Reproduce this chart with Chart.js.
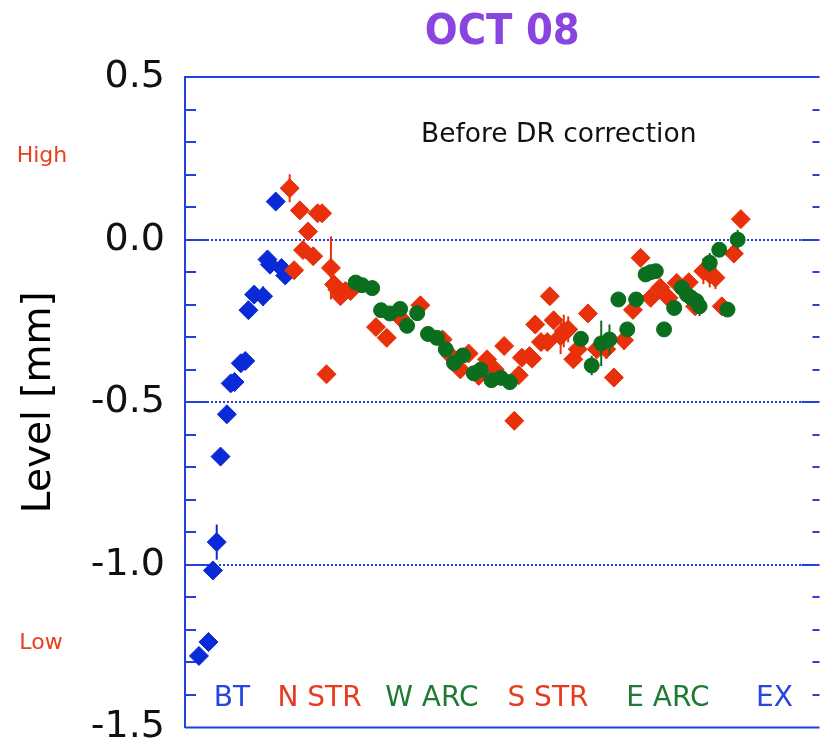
<!DOCTYPE html>
<html>
<head>
<meta charset="utf-8">
<title>OCT 08 level</title>
<script src="https://cdn.jsdelivr.net/npm/chart.js@4.4.0/dist/chart.umd.min.js"></script>
<style>
  body { margin: 0; background: #fff; }
  #wrap { width: 830px; height: 738px; position: relative; }
</style>
</head>
<body>
<div id="wrap"><canvas id="levelChart"></canvas></div>
<script>
// position along the ring (arbitrary units 0..100) and level in mm
const btX   = [2.2, 3.7, 4.4, 5.0, 5.6, 6.6, 7.2, 7.8, 8.8, 9.5, 10.0, 10.9, 12.3, 13.0, 13.4, 14.3, 15.2, 15.8];
const btY   = [-1.28, -1.237, -1.017, -0.93, -0.667, -0.537, -0.442, -0.438, -0.38, -0.373, -0.217, -0.169, -0.174, -0.061, -0.077, 0.117, -0.087, -0.11];
const btErr = [0.01, 0.01, 0.01, 0.054, 0.01, 0.01, 0.01, 0.01, 0.01, 0.01, 0.01, 0.01, 0.03, 0.01, 0.01, 0.015, 0.022, 0.01];

const strX = [16.5, 17.2, 18.1, 18.6, 19.4, 20.2, 20.9, 21.6, 22.3, 23.0, 23.5, 24.0, 24.5, 25.3, 26.1,
              30.1, 31.8, 33.9, 37.1, 40.6, 41.9, 43.4, 44.7, 46.3, 47.6, 48.8, 50.3, 51.9, 52.6, 53.1,
              54.3, 54.7, 55.2, 56.1, 57.1, 57.5, 58.1, 59.2, 59.7, 60.4, 61.2, 61.9, 63.5, 64.9, 66.4,
              67.6, 69.2, 70.6, 71.8, 73.4, 74.9, 76.2, 77.5, 79.4, 80.4, 81.7, 82.7, 83.6, 84.6, 86.5, 87.6];
const strY = [0.158, -0.094, 0.09, -0.032, 0.025, -0.051, 0.081, 0.081, -0.414, -0.087, -0.138, -0.153, -0.174, -0.158, -0.158,
              -0.269, -0.302, -0.24, -0.202, -0.307, -0.357, -0.399, -0.35, -0.419, -0.368, -0.399, -0.327, -0.557, -0.417, -0.363,
              -0.358, -0.366, -0.261, -0.315, -0.315, -0.174, -0.248, -0.297, -0.281, -0.276, -0.368, -0.337, -0.227, -0.337, -0.337,
              -0.424, -0.309, -0.216, -0.056, -0.179, -0.148, -0.179, -0.133, -0.131, -0.205, -0.097, -0.107, -0.117, -0.205, -0.043, 0.063];
const strErr = [0.043, 0.02, 0.02, 0.02, 0.02, 0.015, 0.015, 0.015, 0.015, 0.097, 0.02, 0.02, 0.02, 0.02, 0.015,
                0.015, 0.015, 0.02, 0.015, 0.02, 0.02, 0.02, 0.02, 0.02, 0.015, 0.02, 0.015, 0.015, 0.02, 0.015,
                0.015, 0.02, 0.015, 0.015, 0.015, 0.015, 0.02, 0.055, 0.05, 0.04, 0.02, 0.02, 0.015, 0.02, 0.03,
                0.015, 0.03, 0.02, 0.015, 0.015, 0.015, 0.015, 0.015, 0.015, 0.02, 0.04, 0.04, 0.035, 0.015, 0.02, 0.02];

const arcX = [26.9, 27.9, 29.5, 30.9, 32.3, 33.9, 35.0, 36.6, 38.3, 39.7, 41.1, 42.4, 43.8, 45.5, 46.6, 48.3, 49.8, 51.2,
              62.4, 64.1, 65.6, 66.9, 68.3, 69.7, 71.1, 72.6, 73.4, 74.2, 75.5, 77.1, 78.3, 79.1, 79.8, 80.6, 81.1, 82.7, 84.2, 85.5, 87.1];
const arcY = [-0.132, -0.14, -0.149, -0.217, -0.227, -0.213, -0.265, -0.226, -0.29, -0.302, -0.337, -0.379, -0.356, -0.411, -0.4, -0.432, -0.425, -0.438,
              -0.305, -0.387, -0.319, -0.307, -0.184, -0.276, -0.184, -0.107, -0.1, -0.097, -0.276, -0.21, -0.148, -0.169, -0.179, -0.189, -0.205, -0.071, -0.031, -0.215, 0.0];
const arcErr = [0.01, 0.01, 0.01, 0.01, 0.01, 0.01, 0.01, 0.01, 0.01, 0.01, 0.01, 0.01, 0.01, 0.01, 0.01, 0.01, 0.01, 0.01,
                0.01, 0.03, 0.07, 0.046, 0.01, 0.01, 0.01, 0.01, 0.01, 0.01, 0.01, 0.01, 0.01, 0.01, 0.01, 0.01, 0.03, 0.03, 0.01, 0.01, 0.03];

// section names along the bottom
const sectionNames  = ['BT', 'N STR', 'W ARC', 'S STR', 'E ARC', 'EX'];
const sectionPos    = [7.4, 21.2, 38.9, 57.2, 76.1, 92.9];
const sectionColors = ['#2a44e0', '#e83a1c', '#1f7a34', '#e83a1c', '#1f7a34', '#2a44e0'];

const yTicks = [0.5, 0.0, -0.5, -1.0, -1.5];

const BLUE = '#0a2ad8';
const RED = '#e8300a';
const GREEN = '#0b6e1f';
const AXIS = '#2040e0';

function toPoints(xs, ys) {
    return xs.map((x, i) => ({ x: x, y: ys[i] }));
}

// vertical error bars, drawn just before each dataset's markers
const errorBars = {
    id: 'errorBars',
    beforeDatasetDraw(chart, args) {
        const ds = chart.data.datasets[args.index];
        if (!ds.errors) return;
        const ctx = chart.ctx;
        const xs = chart.scales.x, ys = chart.scales.y;
        ctx.save();
        ctx.strokeStyle = ds.backgroundColor;
        ctx.lineWidth = 2;
        ds.data.forEach((p, i) => {
            const e = ds.errors[i];
            const px = xs.getPixelForValue(p.x);
            ctx.beginPath();
            ctx.moveTo(px, ys.getPixelForValue(p.y + e));
            ctx.lineTo(px, ys.getPixelForValue(p.y - e));
            ctx.stroke();
        });
        ctx.restore();
    }
};

// frame, inner ticks, dotted reference lines and text notes
const frame = {
    id: 'frame',
    beforeDatasetsDraw(chart) {
        const ctx = chart.ctx;
        const a = chart.chartArea;
        const ys = chart.scales.y;
        ctx.save();
        ctx.strokeStyle = AXIS;
        ctx.lineWidth = 2;
        ctx.beginPath();
        ctx.moveTo(a.left, a.top); ctx.lineTo(a.right, a.top);
        ctx.moveTo(a.left, a.bottom); ctx.lineTo(a.right, a.bottom);
        ctx.stroke();
        for (let k = -14; k <= 4; k++) {
            const py = Math.round(ys.getPixelForValue(k / 10));
            const major = k % 5 === 0;
            ctx.lineWidth = 2;
            ctx.setLineDash([]);
            ctx.beginPath();
            ctx.moveTo(a.left, py); ctx.lineTo(a.left + (major ? 22 : 11), py);
            ctx.moveTo(a.right, py); ctx.lineTo(a.right - (major ? 18 : 7), py);
            ctx.stroke();
            if (major) {
                ctx.lineWidth = 2;
                ctx.setLineDash([2, 2]);
                ctx.beginPath();
                ctx.moveTo(a.left + 22, py); ctx.lineTo(a.right - 18, py);
                ctx.stroke();
            }
        }
        ctx.restore();
    },
    afterDraw(chart) {
        const ctx = chart.ctx;
        const xs = chart.scales.x, ys = chart.scales.y;
        ctx.save();
        ctx.textAlign = 'center';
        ctx.textBaseline = 'middle';
        ctx.font = '28px "DejaVu Sans"';
        sectionNames.forEach((name, i) => {
            ctx.fillStyle = sectionColors[i];
            ctx.fillText(name, xs.getPixelForValue(sectionPos[i]), ys.getPixelForValue(-1.413));
        });
        ctx.fillStyle = '#111';
        ctx.font = '26.5px "DejaVu Sans"';
        ctx.fillText('Before DR correction', xs.getPixelForValue(58.9), ys.getPixelForValue(0.322));
        ctx.fillStyle = '#e8401c';
        ctx.font = '22px "DejaVu Sans"';
        ctx.fillText('High', 42, ys.getPixelForValue(0.255));
        ctx.fillText('Low', 41, ys.getPixelForValue(-1.242));
        ctx.restore();
    }
};

const chartCanvas = document.getElementById('levelChart');
const ctx = chartCanvas.getContext('2d');
chartCanvas.chart = new Chart(ctx, {
    type: 'scatter',
    data: {
        datasets: [
            {
                label: 'BT / EX',
                data: toPoints(btX, btY),
                errors: btErr,
                pointStyle: 'rectRot',
                pointRadius: 9.5,
                backgroundColor: BLUE,
                borderColor: BLUE,
                borderWidth: 1,
                order: 3
            },
            {
                label: 'STR',
                data: toPoints(strX, strY),
                errors: strErr,
                pointStyle: 'rectRot',
                pointRadius: 9.5,
                backgroundColor: RED,
                borderColor: RED,
                borderWidth: 1,
                order: 2
            },
            {
                label: 'ARC',
                data: toPoints(arcX, arcY),
                errors: arcErr,
                pointStyle: 'circle',
                pointRadius: 7.5,
                backgroundColor: GREEN,
                borderColor: GREEN,
                borderWidth: 1,
                order: 1
            }
        ]
    },
    options: {
        responsive: true,
        maintainAspectRatio: false,
        animation: false,
        layout: {
            padding: { left: 0, right: 0, top: 0, bottom: 10 }
        },
        plugins: {
            legend: { display: false },
            tooltip: { enabled: false },
            title: {
                display: true,
                text: 'OCT 08',
                fullSize: false,
                color: '#8a45e0',
                font: { family: '"DejaVu Sans Condensed", "DejaVu Sans"', style: 'condensed', size: 43, weight: 'bold', lineHeight: 1 },
                padding: { top: 11, bottom: 23 }
            }
        },
        scales: {
            x: {
                type: 'linear',
                display: false,
                min: 0,
                max: 100
            },
            y: {
                type: 'linear',
                min: -1.5,
                max: 0.5,
                afterBuildTicks: scale => {
                    scale.ticks = yTicks.map(v => ({ value: v }));
                },
                afterFit: scale => {
                    scale.width = 185;
                    scale.paddingTop = 0;
                    scale.paddingBottom = 0;
                },
                grid: { display: false, drawTicks: false },
                border: { display: true, color: AXIS, width: 2 },
                ticks: {
                    color: '#111',
                    padding: 20,
                    font: { family: '"DejaVu Sans"', size: 38 },
                    callback: v => v.toFixed(1)
                },
                title: {
                    display: true,
                    text: 'Level [mm]',
                    color: '#000',
                    font: { family: '"DejaVu Sans"', size: 39 },
                    padding: { top: 16, bottom: 0 }
                }
            }
        }
    },
    plugins: [errorBars, frame]
});
</script>
</body>
</html>
